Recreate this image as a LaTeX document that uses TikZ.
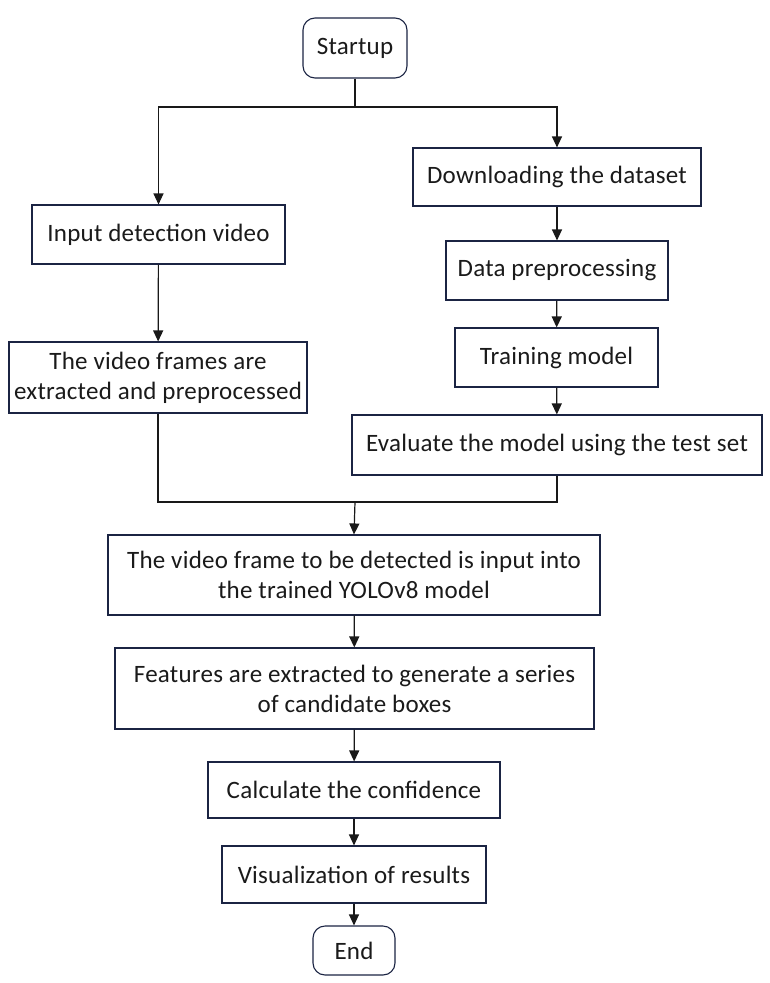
\documentclass[tikz,border=0pt]{standalone}
\usepackage{fontspec}
\setmainfont{Carlito}[LetterSpace=1]
\usetikzlibrary{arrows.meta}
\definecolor{boxline}{HTML}{1B2443}
\definecolor{txt}{HTML}{1A1A1A}
\begin{document}
\begin{tikzpicture}[x=1pt,y=-1pt,
  every node/.style={font=\fontsize{25}{30}\selectfont, text=txt, inner sep=0pt, align=center},
  box/.style={draw=boxline, line width=1.1pt, fill=white},
  term/.style={box, rounded corners=12pt},
  conn/.style={line width=1.2pt, draw=black!90},
  arr/.style={conn, -{Triangle[width=10pt,length=11pt]}}]
\useasboundingbox (0,0) rectangle (770,983);
\node[term, minimum width=104pt, minimum height=60pt] (start) at (355,48) {Startup};
\node[box, minimum width=288pt, minimum height=58pt] (down) at (557,177) {Downloading the dataset};
\node[box, minimum width=253pt, minimum height=59pt] (input) at (158.5,234.5) {Input detection video};
\node[box, minimum width=222pt, minimum height=59pt] (prep) at (557,270.5) {Data preprocessing};
\node[box, minimum width=203pt, minimum height=59pt] (train) at (556.5,357.5) {Training model};
\node[box, minimum width=410pt, minimum height=60pt] (eval) at (557,445) {Evaluate the model using the test set};
\node[box, minimum width=298pt, minimum height=71pt] (frames) at (158,377.5) {The video frames are\\extracted and preprocessed};
\node[box, minimum width=492pt, minimum height=80pt] (detect) at (354,575) {The video frame to be detected is input into\\the trained YOLOv8 model};
\node[box, minimum width=479pt, minimum height=81pt] (feat) at (354.5,688.5) {Features are extracted to generate a series\\of candidate boxes};
\node[box, minimum width=292pt, minimum height=56pt] (conf) at (354,790) {Calculate the confidence};
\node[box, minimum width=264pt, minimum height=57pt] (vis) at (354,874.5) {Visualization of results};
\node[term, minimum width=82pt, minimum height=49pt] (end) at (354,950.5) {End};
\coordinate (split) at (355,107);
\coordinate (merge) at (355,502);
\draw[conn] (start.south) -- (split);
\draw[arr] (split) -| (input.north);
\draw[arr] (split) -| (down.north);
\draw[arr] (down) -- (prep);
\draw[arr] (prep) -- (train);
\draw[arr] (train) -- (eval);
\draw[arr] (input) -- (frames);
\draw[conn] (frames.south) |- (merge);
\draw[conn] (eval.south) |- (merge);
\draw[arr] (merge) -- (detect.north);
\draw[arr] (detect) -- (feat);
\draw[arr] (feat) -- (conf);
\draw[arr] (conf) -- (vis);
\draw[arr] (vis) -- (end);
\end{tikzpicture}
\end{document}
